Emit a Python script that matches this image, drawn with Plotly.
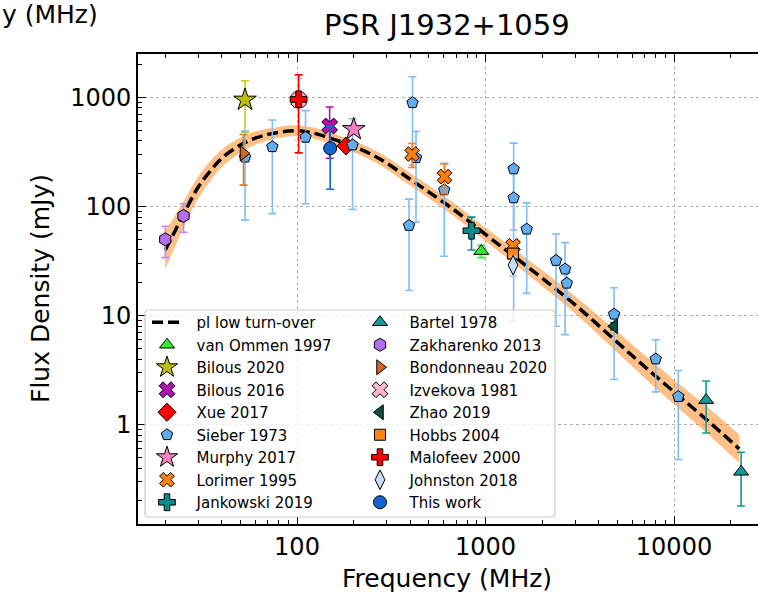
import plotly.graph_objects as go

FONT = "DejaVu Sans"

# ---------------- data ----------------
model_freq = [20, 22, 25, 30, 35, 40, 50, 60, 70, 80, 90, 100, 120, 150, 200, 250, 300,
              400, 500, 700, 1000, 1400, 2000, 3000, 5000, 7000, 10000, 15000, 22200]
model_flux = [40, 55, 85, 152, 216, 278, 366, 423, 458, 479, 492, 495, 474, 424, 355, 298, 249,
              177, 136, 90, 55.5, 35.5, 22.0, 12.5, 5.7, 3.4, 2.0, 1.1, 0.6]
model_upper = [61, 77, 111, 190, 265, 334, 430, 486, 520, 537, 552, 555, 532, 476, 400, 337, 283,
               202, 155.5, 103.3, 64.0, 41.2, 26.0, 15.0, 7.1, 4.33, 2.59, 1.46, 0.81]
model_lower = [26.5, 39, 64, 120, 175, 231, 311, 368, 403, 427, 438, 441, 422, 378, 315, 263, 219,
               155, 119, 78.4, 48.1, 30.6, 18.6, 10.4, 4.58, 2.67, 1.54, 0.83, 0.445]

vanommen_freq, vanommen_flux, vanommen_err = [950], [39], [5]
bilous20_freq, bilous20_flux, bilous20_err = [53], [950], [470]
bilous16_freq, bilous16_flux, bilous16_err = [149], [547], [270]
xue_freq, xue_flux, xue_err = [182], [359], [30]
sieber_freq = [53, 74, 111, 197, 410, 428, 393, 604, 1410, 1410, 1654, 2366, 2642, 2700, 4810, 8000, 10540]
sieber_flux = [283, 353, 431, 366, 894, 280, 67, 142, 221, 120, 62, 32, 26.7, 19.8, 10.3, 4.0, 1.81]
sieber_err = [208, 267, 325, 272, 655, 208, 50, 107, 160, 111, 46, 24, 20, 5, 7.7, 2.0, 1.33]
murphy_freq, murphy_flux, murphy_err = [200], [510], [40]
lorimer_freq, lorimer_flux, lorimer_err = [408, 606, 1400], [303, 188, 43.7], [75, 57, 3.5]
jankowski_freq, jankowski_flux, jankowski_err = [843], [60], [20]
bartel_freq, bartel_flux, bartel_err = [14800, 22700], [1.68, 0.37], [0.84, 0.19]
zakharenko_freq, zakharenko_flux, zakharenko_err = [20, 25], [50, 82], [16, 24]
bondonneau_freq, bondonneau_flux, bondonneau_err = [52], [307], [150]
izvekova_freq, izvekova_flux, izvekova_err = [102], [950], [545]
zhao_freq, zhao_flux, zhao_err = [4820], [8.0], [0.6]
hobbs_freq, hobbs_flux, hobbs_err = [1400], [37], [3]
malofeev_freq, malofeev_flux, malofeev_err = [102], [960], [650]
johnston_freq, johnston_flux, johnston_err = [1400], [29], [6]
thiswork_freq, thiswork_flux, thiswork_err = [150], [342], [198]

x_ticks = [100, 1000, 10000]
x_ticktext = ["100", "1000", "10000"]
y_ticks = [1, 10, 100, 1000]
y_ticktext = ["1", "10", "100", "1000"]

# ---------------- layout helpers (pixel geometry) ----------------
W, H = 758, 592
L, R, T, B = 138, 758, 54, 524
PW, PH = R - L, B - T


def px(x):
    return (x - L) / PW


def py(y):
    return (B - y) / PH


fig = go.Figure()

# uncertainty band
fig.add_trace(go.Scatter(x=model_freq, y=model_lower, mode="lines", line=dict(width=0, shape="spline"),
                         showlegend=False, hoverinfo="skip"))
fig.add_trace(go.Scatter(x=model_freq, y=model_upper, mode="lines", line=dict(width=0, shape="spline"),
                         fill="tonexty", fillcolor="rgba(255,127,14,0.5)", showlegend=False, hoverinfo="skip"))
# model curve
fig.add_trace(go.Scatter(x=model_freq, y=model_flux, mode="lines", name="\u00a0\u00a0pl low turn-over",
                         line=dict(color="black", width=3.5, dash="11px,5px", shape="spline"),
                         legend="legend"))

series = [
    # name, freq, flux, err, symbol, size, color, ecolor, legend
    ("van Ommen 1997", vanommen_freq, vanommen_flux, vanommen_err, "triangle-up", 13, "#2ef02e", "#2ef02e", "legend"),
    ("Bilous 2020", bilous20_freq, bilous20_flux, bilous20_err, "star", 17, "#bcbc14", "#c8c814", "legend"),
    ("Bilous 2016", bilous16_freq, bilous16_flux, bilous16_err, "x", 14, "#b012b0", "#b012b0", "legend"),
    ("Xue 2017", xue_freq, xue_flux, xue_err, "diamond", 14, "#ff0000", "#ff0000", "legend"),
    ("Sieber 1973", sieber_freq, sieber_flux, sieber_err, "pentagon", 12, "#62acf2", "#80bdf5", "legend"),
    ("Murphy 2017", murphy_freq, murphy_flux, murphy_err, "star", 17, "#f77fbf", "#f77fbf", "legend"),
    ("Lorimer 1995", lorimer_freq, lorimer_flux, lorimer_err, "x", 13, "#ff7f0e", "#ff7f0e", "legend"),
    ("Jankowski 2019", jankowski_freq, jankowski_flux, jankowski_err, "cross", 14, "#0a8a8a", "#0a8a8a", "legend"),
    ("Bartel 1978", bartel_freq, bartel_flux, bartel_err, "triangle-up", 13, "#139a94", "#139a94", "legend2"),
    ("Zakharenko 2013", zakharenko_freq, zakharenko_flux, zakharenko_err, "hexagon", 13, "#b26df0", "#c48af5", "legend2"),
    ("Bondonneau 2020", bondonneau_freq, bondonneau_flux, bondonneau_err, "triangle-right", 13, "#d2691e", "#d8782a", "legend2"),
    ("Izvekova 1981", izvekova_freq, izvekova_flux, izvekova_err, "x", 14, "#ffb6c8", "#ffb6c8", "legend2"),
    ("Zhao 2019", zhao_freq, zhao_flux, zhao_err, "triangle-left", 13, "#0b4d3e", "#0b4d3e", "legend2"),
    ("Hobbs 2004", hobbs_freq, hobbs_flux, hobbs_err, "square", 11, "#ff8418", "#ff8418", "legend2"),
    ("Malofeev 2000", malofeev_freq, malofeev_flux, malofeev_err, "cross", 14, "#ff0000", "#ff0000", "legend2"),
    ("Johnston 2018", johnston_freq, johnston_flux, johnston_err, "diamond-tall", 14, "#c4ddf8", "#a9cdf5", "legend2"),
    ("This work", thiswork_freq, thiswork_flux, thiswork_err, "circle", 13, "#1565d0", "#1565d0", "legend2"),
]

for name, f, s, e, sym, size, col, ecol, leg in series:
    fig.add_trace(go.Scatter(
        x=f, y=s, mode="markers", name="\u00a0\u00a0" + name, legend=leg,
        marker=dict(symbol=sym, size=size, color=col, line=dict(color="black", width=1)),
        error_y=dict(type="data", array=e, symmetric=True, color=ecol, thickness=1.6, width=4),
    ))

axis_common = dict(
    type="log", showline=True, linecolor="black", linewidth=1.6,
    ticks="inside", ticklen=8, tickwidth=1.4, tickcolor="black",
    showgrid=True, gridcolor="#b0b0b0", gridwidth=1, griddash="dot",
    zeroline=False, tickfont=dict(family=FONT, size=24, color="black"),
    tickmode="array",
)

x_minor = [v * m for v in (10, 100, 1000, 10000) for m in range(2, 10)]
y_minor = [v * m for v in (0.1, 1, 10, 100, 1000) for m in range(2, 10)]

fig.update_xaxes(**axis_common, tickvals=x_ticks, ticktext=x_ticktext, mirror="allticks",
                 range=[1.1565, 4.4456],
                 minor=dict(tickvals=x_minor, ticks="inside", ticklen=4.5, tickwidth=1.2,
                            tickcolor="black", showgrid=False))
fig.update_yaxes(**axis_common, tickvals=y_ticks, ticktext=y_ticktext, mirror=False,
                 range=[-0.910, 3.398], ticklabelstandoff=0,
                 minor=dict(tickvals=y_minor, ticks="inside", ticklen=4.5, tickwidth=1.2,
                            tickcolor="black", showgrid=False))

# legend frame (rounded, semi-transparent white)
bx0, bx1, by0, by1 = px(145), px(555), py(517), py(310)
rx, ry = 4 / PW, 4 / PH
path = (f"M {bx0+rx},{by1} L {bx1-rx},{by1} Q {bx1},{by1} {bx1},{by1-ry} "
        f"L {bx1},{by0+ry} Q {bx1},{by0} {bx1-rx},{by0} L {bx0+rx},{by0} "
        f"Q {bx0},{by0} {bx0},{by0+ry} L {bx0},{by1-ry} Q {bx0},{by1} {bx0+rx},{by1} Z")
fig.add_shape(type="path", path=path, xref="paper", yref="paper", layer="above",
              fillcolor="rgba(255,255,255,0.8)", line=dict(color="#cccccc", width=1.2))

leg_common = dict(font=dict(family=FONT, size=15, color="black"), bgcolor="rgba(0,0,0,0)",
                  borderwidth=0, xanchor="left", yanchor="top", traceorder="normal",
                  itemclick=False, itemdoubleclick=False)

fig.update_layout(
    width=W, height=H,
    margin=dict(l=L, r=W - R, t=T, b=H - B, pad=0),
    paper_bgcolor="white", plot_bgcolor="white",
    font=dict(family=FONT, color="black"),
    showlegend=True,
    legend=dict(**leg_common, x=px(147), y=py(306)),
    legend2=dict(**leg_common, x=px(360), y=py(306)),
    annotations=[
        dict(text="PSR J1932+1059", x=px(447), y=py(25), xref="paper", yref="paper",
             showarrow=False, xanchor="center", yanchor="middle",
             font=dict(family=FONT, size=29, color="black")),
        dict(text="Frequency (MHz)", x=px(447), y=py(578), xref="paper", yref="paper",
             showarrow=False, xanchor="center", yanchor="middle",
             font=dict(family=FONT, size=25, color="black")),
        dict(text="Flux Density (mJy)", x=px(40), y=py(289), xref="paper", yref="paper",
             showarrow=False, xanchor="center", yanchor="middle", textangle=-90,
             font=dict(family=FONT, size=25, color="black")),
        dict(text="y (MHz)", x=px(0), y=py(14), xref="paper", yref="paper",
             showarrow=False, xanchor="left", yanchor="middle",
             font=dict(family=FONT, size=25, color="black")),
    ],
)

fig.write_html("out.html")
